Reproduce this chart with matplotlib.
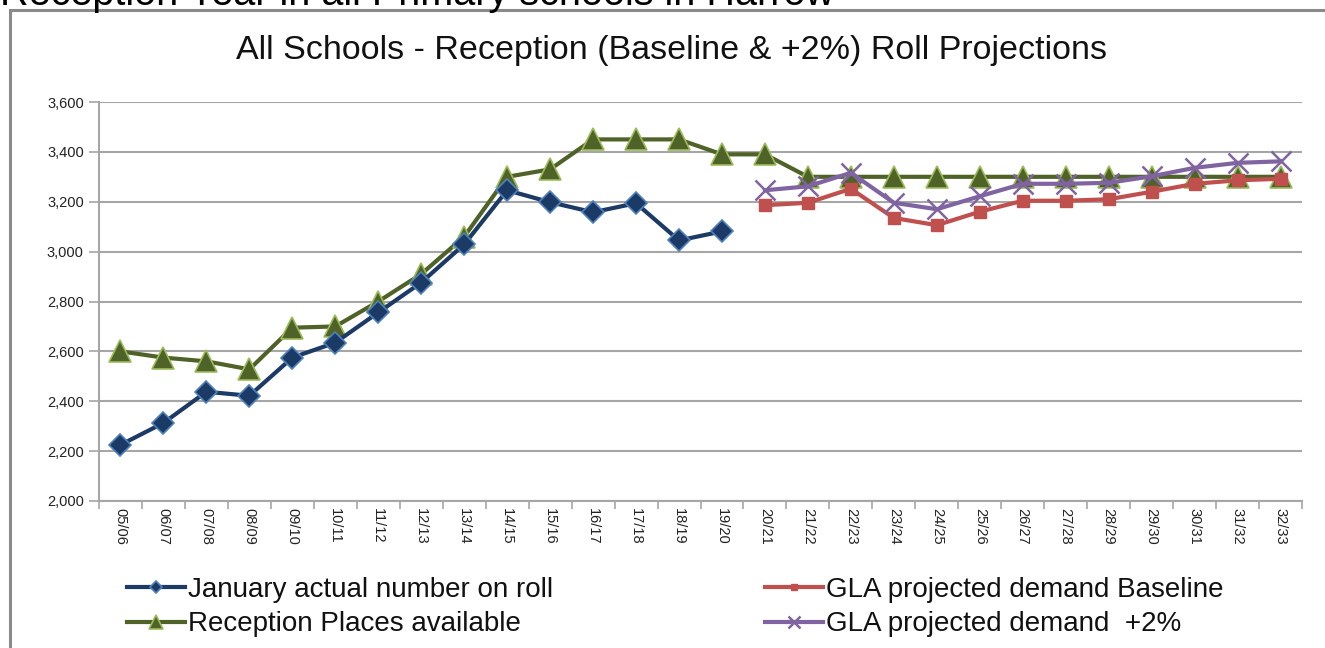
import matplotlib
matplotlib.use("Agg")
import matplotlib.pyplot as plt
from matplotlib.patches import Rectangle
import numpy as np

plt.rcParams['font.family'] = ['Liberation Sans', 'DejaVu Sans']

years = ["05/06", "06/07", "07/08", "08/09", "09/10", "10/11", "11/12", "12/13", "13/14",
         "14/15", "15/16", "16/17", "17/18", "18/19", "19/20", "20/21", "21/22", "22/23",
         "23/24", "24/25", "25/26", "26/27", "27/28", "28/29", "29/30", "30/31", "31/32", "32/33"]

actual = [2225, 2313, 2438, 2422, 2575, 2635, 2756, 2876, 3029, 3246, 3198, 3158, 3194, 3045, 3081]
places = [2600, 2575, 2560, 2528, 2695, 2700, 2800, 2910, 3060, 3300, 3330, 3450, 3450, 3450, 3390,
          3390, 3300, 3300, 3300, 3300, 3300, 3300, 3300, 3300, 3300, 3300, 3300, 3300]
baseline = [3186, 3196, 3252, 3135, 3106, 3160, 3204, 3204, 3210, 3240, 3272, 3286, 3292]
plus2 = [3246, 3262, 3316, 3196, 3170, 3222, 3272, 3272, 3276, 3302, 3336, 3356, 3362]

W, H = 1325, 648
fig = plt.figure(figsize=(W / 100, H / 100), dpi=100)
ax = fig.add_axes([99 / W, 1 - 501 / H, (1302 - 99) / W, (501 - 102) / H])

x_all = np.arange(len(years))
x_act = x_all[:len(actual)]
x_proj = x_all[15:15 + len(baseline)]

navy = '#1B3A66'
navy_edge = '#4F81BD'
green_line = '#4F6228'
green_face = '#4F6228'
green_edge = '#9BBB59'
red = '#C0504D'
purple = '#8064A2'

l_act, = ax.plot(x_act, actual, color=navy, lw=3, marker='D', ms=11,
                 mfc=navy, mec=navy_edge, mew=1.2, zorder=4)
l_pl, = ax.plot(x_all, places, color=green_line, lw=3, marker='^', ms=16,
                mfc=green_face, mec=green_edge, mew=1.2, zorder=3)
l_base, = ax.plot(x_proj, baseline, color=red, lw=3, marker='s', ms=8,
                  mfc=red, mec=red, zorder=5)
l_p2, = ax.plot(x_proj, plus2, color=purple, lw=3, marker='x', ms=14,
                mew=1.8, mec=purple, zorder=6)

ax.set_xlim(-0.5, len(years) - 0.5)
ax.set_ylim(2000, 3600)
ax.set_yticks(np.arange(2000, 3601, 200))
ax.set_yticklabels([f"{v:,}" for v in range(2000, 3601, 200)], fontsize=10.5, color='#222222')
ax.yaxis.grid(True, color='#A6A6A6', lw=1.5)
ax.set_axisbelow(True)

ax.set_xticks(x_all)
ax.set_xticklabels(years, rotation=-90, fontsize=10.5, color='#222222', va='top')
ax.set_xticks(np.arange(-0.5, len(years), 1), minor=True)
ax.tick_params(axis='x', which='major', length=0, pad=5)
ax.tick_params(axis='x', which='minor', length=6, color='#A6A6A6', width=1.2)
ax.tick_params(axis='y', length=7, color='#A6A6A6', width=1.2, pad=4)

for s in ['top', 'right']:
    ax.spines[s].set_visible(False)
for s in ['left', 'bottom']:
    ax.spines[s].set_color('#A6A6A6')
    ax.spines[s].set_linewidth(1.5)

# chart outer border
fig.add_artist(Rectangle((10 / W, -0.05), 1.0, 1 - 10 / H + 0.05, transform=fig.transFigure,
                         fill=False, edgecolor='#8A8A8A', lw=2.2, clip_on=False))

# partial text above chart (cut off at top in the original)
fig.text(0 / W, 1 - 5 / H, "Reception Year in all Primary schools in Harrow",
         fontsize=28.5, va='baseline', ha='left', color='black')

fig.text((236 + 1108) / 2 / W, 1 - 50 / H,
         "All Schools - Reception (Baseline & +2%) Roll Projections",
         fontsize=24.5, ha='center', va='center', color='#111111')

leg_kw = dict(loc='upper left', frameon=False, fontsize=20, handlelength=2.1,
              handletextpad=0.1, borderpad=0, borderaxespad=0, labelspacing=0.3,
              markerscale=0.6)
leg1 = fig.legend([l_act, l_pl], ["January actual number on roll", "Reception Places available"],
                  bbox_to_anchor=(127 / W, 1 - 577 / H), **leg_kw)
leg2 = fig.legend([l_base, l_p2], ["GLA projected demand Baseline", "GLA projected demand  +2%"],
                  bbox_to_anchor=(765 / W, 1 - 577 / H), **leg_kw)
for leg in (leg1, leg2):
    for t in leg.get_texts():
        t.set_color('#111111')

fig.savefig("out.png", dpi=100)
